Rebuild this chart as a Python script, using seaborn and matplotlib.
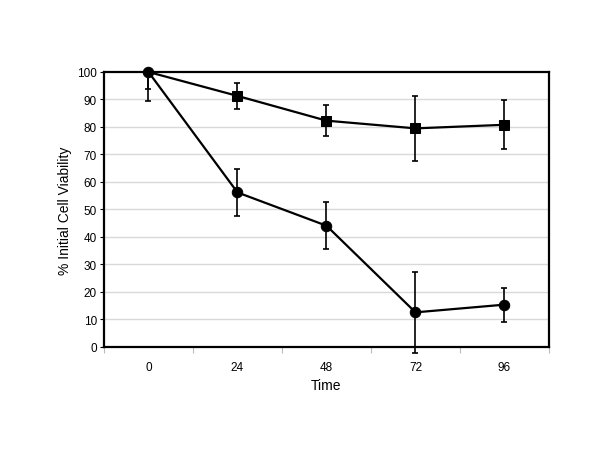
import numpy as np
import pandas as pd
import matplotlib
matplotlib.use('Agg')
from matplotlib import pyplot as plt
from matplotlib.ticker import FixedLocator
import seaborn as sns

# 데이터
time_labels = ['0', '24', '48', '72', '96']
square_mean = [100, 91.3, 82.3, 79.5, 80.8]
square_err_lo = [6.3, 4.8, 5.6, 11.8, 8.9]
square_err_hi = [0, 4.8, 5.6, 11.8, 8.9]  # 100 위쪽은 안 보임
circle_mean = [100, 56.2, 44.1, 12.6, 15.4]
circle_err_lo = [10.5, 8.4, 8.5, 14.6, 6.2]
circle_err_hi = [0, 8.4, 8.5, 14.6, 6.2]

sns.set_theme(style='white')
plt.rcParams['font.family'] = ['Liberation Sans', 'DejaVu Sans']
plt.rcParams['text.color'] = 'black'
plt.rcParams['axes.labelcolor'] = 'black'
plt.rcParams['xtick.labelcolor'] = 'black'
plt.rcParams['ytick.labelcolor'] = 'black'

fig = plt.figure(figsize=(6, 4.64), dpi=100)
ax = fig.add_axes([0.1733, 0.25, 0.915 - 0.1733, 0.8427 - 0.25])

pos = np.arange(len(time_labels))
sq_df = pd.DataFrame({'pos': pos, 'viab': square_mean})
ci_df = pd.DataFrame({'pos': pos, 'viab': circle_mean})

# 격자선
for v in range(10, 100, 10):
    ax.axhline(v, color='#d9d9d9', lw=1, zorder=0)

# 오차막대
ax.errorbar(pos, square_mean, yerr=[square_err_lo, square_err_hi], fmt='none', ecolor='black',
            elinewidth=1.2, capsize=2.5, capthick=1.2, zorder=2, clip_on=False)
ax.errorbar(pos, circle_mean, yerr=[circle_err_lo, circle_err_hi], fmt='none', ecolor='black',
            elinewidth=1.2, capsize=2.5, capthick=1.2, zorder=2, clip_on=False)

sns.lineplot(data=sq_df, x='pos', y='viab', marker='s', color='black', lw=1.6,
             markersize=7, markeredgecolor='black', markevery=[1, 2, 3, 4],
             ax=ax, zorder=3, clip_on=False)
sns.lineplot(data=ci_df, x='pos', y='viab', marker='o', color='black', lw=1.6,
             markersize=7.5, markeredgecolor='black', ax=ax, zorder=4, clip_on=False)

ax.set_xlim(-0.5, 4.5)
ax.set_ylim(0, 100)
ax.set_xticks(pos)
ax.set_xticklabels(time_labels)
ax.xaxis.set_minor_locator(FixedLocator(np.arange(-0.5, 4.6, 1)))
ax.tick_params(axis='x', which='major', length=0, labelsize=8.5, pad=10)
ax.tick_params(axis='x', which='minor', length=4, color='#bbbbbb', width=0.8, bottom=True)
ax.set_yticks(range(0, 101, 10))
ax.tick_params(axis='y', which='major', length=3, color='black', width=0.8, labelsize=8.5, left=True, pad=2)

for s in ax.spines.values():
    s.set_color('black')
    s.set_linewidth(1.6)

ax.set_xlabel('Time', fontsize=10, labelpad=4)
ax.set_ylabel('% Initial Cell Viability', fontsize=10, labelpad=4)

fig.savefig('out.png', dpi=100)
